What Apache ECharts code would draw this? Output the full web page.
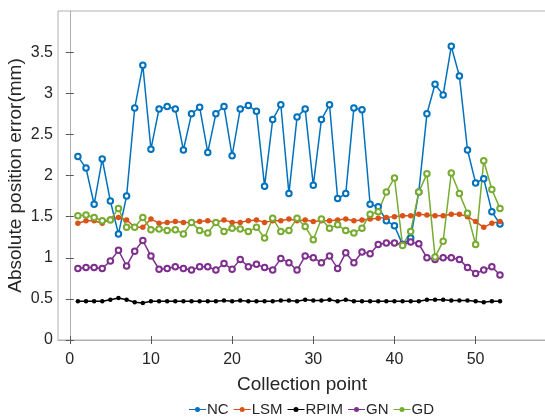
<!DOCTYPE html>
<html>
<head>
<meta charset="utf-8">
<script src="https://cdn.jsdelivr.net/npm/echarts@6/dist/echarts.min.js"></script>
<style>
html,body{margin:0;padding:0;background:#fff;}
#chart{width:545px;height:419px;}
</style>
</head>
<body>
<div id="chart"></div>
<script>
var points = [1,2,3,4,5,6,7,8,9,10,11,12,13,14,15,16,17,18,19,20,21,22,23,24,25,26,27,28,29,30,31,32,33,34,35,36,37,38,39,40,41,42,43,44,45,46,47,48,49,50,51,52,53];
var xTicks = [0,10,20,30,40,50];
var yTicks = [0,0.5,1,1.5,2,2.5,3,3.5];
var NC = [2.23,2.09,1.65,2.20,1.69,1.29,1.75,2.82,3.34,2.32,
          2.81,2.84,2.81,2.31,2.75,2.83,2.28,2.75,2.84,2.24,
          2.81,2.85,2.78,1.87,2.68,2.86,1.78,2.71,2.81,1.88,
          2.68,2.86,1.72,1.78,2.82,2.80,1.65,1.62,1.45,1.39,
          1.16,1.24,1.80,2.75,3.11,2.98,3.57,3.21,2.31,1.91,
          1.96,1.56,1.41];
var LSM = [1.42,1.45,1.45,1.42,1.47,1.49,1.46,1.37,1.37,1.47,
           1.42,1.43,1.44,1.43,1.43,1.44,1.45,1.43,1.46,1.43,
           1.43,1.45,1.46,1.43,1.45,1.45,1.47,1.45,1.46,1.44,
           1.45,1.45,1.46,1.47,1.45,1.46,1.47,1.48,1.49,1.50,
           1.51,1.51,1.53,1.52,1.51,1.51,1.53,1.53,1.50,1.44,
           1.37,1.42,1.44];
var RPIM = [0.47,0.47,0.47,0.47,0.49,0.51,0.49,0.46,0.45,0.47,
            0.47,0.47,0.47,0.47,0.47,0.47,0.47,0.47,0.48,0.47,
            0.48,0.47,0.47,0.47,0.47,0.48,0.48,0.47,0.49,0.48,
            0.48,0.49,0.47,0.49,0.47,0.47,0.47,0.47,0.47,0.47,
            0.47,0.47,0.47,0.49,0.49,0.49,0.48,0.48,0.48,0.47,
            0.46,0.47,0.47];
var GN = [0.87,0.88,0.88,0.87,0.96,1.09,0.90,1.08,1.21,1.02,
          0.86,0.87,0.89,0.87,0.85,0.89,0.89,0.85,0.93,0.86,
          0.98,0.89,0.92,0.88,0.85,0.99,0.94,0.85,1.02,1.00,
          0.94,1.02,0.87,1.06,0.94,1.07,1.05,1.16,1.18,1.18,
          1.16,1.19,1.17,1.00,0.98,1.00,1.00,0.98,0.88,0.81,
          0.85,0.89,0.79];
var GD = [1.51,1.52,1.49,1.45,1.46,1.60,1.37,1.37,1.49,1.34,
          1.35,1.33,1.34,1.29,1.43,1.33,1.30,1.43,1.32,1.36,
          1.35,1.32,1.37,1.24,1.48,1.32,1.33,1.48,1.38,1.22,
          1.47,1.36,1.40,1.33,1.30,1.36,1.53,1.56,1.80,1.97,
          1.15,1.32,1.80,2.02,1.01,1.20,2.03,1.78,1.54,1.16,
          2.18,1.83,1.60];
var seriesNames = ['NC','LSM','RPIM','GN','GD'];
var seriesValues = [NC, LSM, RPIM, GN, GD];
var seriesColors = ['#0072BD','#D95319','#000000','#7E2F8E','#77AC30'];
var seriesSymbols = ['emptyCircle','circle','circle','emptyCircle','emptyCircle'];

var FONT = 'Liberation Sans, Arial, sans-serif';
var TXT = '#262626';
var legendIcon = 'path://M0,3.4h17v1.2h-17z M6,4a2.5,2.5 0 1,1 5,0a2.5,2.5 0 1,1 -5,0z';

function pairs(vals){
  var out = [];
  for (var i = 0; i < points.length; i++) out.push([points[i], vals[i]]);
  return out;
}

var series = seriesNames.map(function(n, k){
  return {
    name: n,
    type: 'line',
    data: pairs(seriesValues[k]),
    symbol: seriesSymbols[k],
    symbolSize: k === 2 ? 4.5 : 5.5,
    showAllSymbol: true,
    lineStyle: {color: seriesColors[k], width: 1.5},
    itemStyle: {color: seriesColors[k], borderWidth: 1.2},
    emphasis: {disabled: true}
  };
});

var chart = echarts.init(document.getElementById('chart'), null, {renderer: 'canvas'});
chart.setOption({
  animation: false,
  backgroundColor: '#fff',
  textStyle: {fontFamily: FONT},
  grid: {left: 58, top: 11, right: -1, bottom: 79, containLabel: false, outerBoundsMode: 'none',
         show: true, borderColor: '#b0b0b0', borderWidth: 1, backgroundColor: 'transparent'},
  legend: {
    data: seriesNames.map(function(n, k){
      return {name: n, icon: legendIcon, itemStyle: {color: seriesColors[k]}};
    }),
    left: 184, top: 397,
    itemWidth: 17, itemHeight: 6, itemGap: 5,
    textStyle: {fontFamily: FONT, fontSize: 15, color: TXT, padding: [0,0,0,-4]},
    selectedMode: false
  },
  xAxis: [{
    type: 'value', min: -1.45, max: 58.67, position: 'bottom',
    name: 'Collection point', nameLocation: 'middle', nameGap: 35,
    nameTextStyle: {fontFamily: FONT, fontSize: 19, color: TXT},
    axisLine: {show: true, lineStyle: {color: '#b0b0b0', width: 1}},
    axisTick: {show: true, inside: true, length: 4, customValues: xTicks, lineStyle: {color: '#555'}},
    axisLabel: {show: true, customValues: xTicks, margin: 12, fontFamily: FONT, fontSize: 16, color: TXT},
    splitLine: {show: false}
  },{
    type: 'value', min: -1.45, max: 58.67, position: 'top',
    axisLine: {show: false},
    axisTick: {show: true, inside: true, length: 4, customValues: xTicks, lineStyle: {color: '#555'}},
    axisLabel: {show: false},
    splitLine: {show: false}
  }],
  yAxis: [{
    type: 'value', min: 0, max: 4, interval: 0.5, position: 'left',
    name: 'Absolute position error(mm)', nameLocation: 'middle', nameGap: 33, nameRotate: 90,
    nameMoveOverlap: false,
    nameTextStyle: {fontFamily: FONT, fontSize: 19, color: TXT},
    axisLine: {show: true, lineStyle: {color: '#b0b0b0', width: 1}},
    axisTick: {show: true, inside: true, length: 4, customValues: yTicks, lineStyle: {color: '#555'}},
    axisLabel: {show: true, customValues: yTicks, margin: 5, fontFamily: FONT, fontSize: 16, color: TXT},
    splitLine: {show: false}
  },{
    type: 'value', min: 0, max: 4, interval: 0.5, position: 'right', offset: -1,
    axisLine: {show: false},
    axisTick: {show: true, inside: true, length: 4, customValues: yTicks, lineStyle: {color: '#555'}},
    axisLabel: {show: false},
    splitLine: {show: false}
  }],
  series: series
});
</script>
</body>
</html>
